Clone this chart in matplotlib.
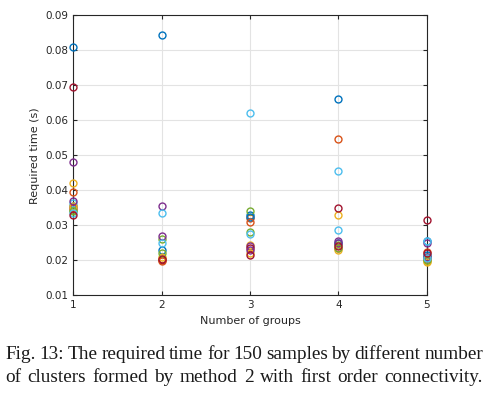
import numpy as np
import matplotlib
matplotlib.use("Agg")
import matplotlib.pyplot as plt

# number of groups (x axis)
groups = [1, 2, 3, 4, 5]

# required time (s), one row per run, plotted as one series each
times = [
    [0.0810, 0.0843, 0.0330, 0.0660, 0.0255],
    [0.0395, 0.0205, 0.0320, 0.0547, 0.0225],
    [0.0420, 0.0205, 0.0245, 0.0330, 0.0198],
    [0.0480, 0.0355, 0.0240, 0.0255, 0.0250],
    [0.0345, 0.0260, 0.0340, 0.0245, 0.0210],
    [0.0365, 0.0335, 0.0622, 0.0455, 0.0255],
    [0.0695, 0.0200, 0.0235, 0.0350, 0.0315],
    [0.0355, 0.0230, 0.0325, 0.0250, 0.0215],
    [0.0350, 0.0198, 0.0310, 0.0235, 0.0205],
    [0.0355, 0.0210, 0.0220, 0.0230, 0.0195],
    [0.0370, 0.0270, 0.0230, 0.0250, 0.0210],
    [0.0340, 0.0220, 0.0280, 0.0235, 0.0202],
    [0.0335, 0.0250, 0.0275, 0.0287, 0.0208],
    [0.0330, 0.0205, 0.0215, 0.0240, 0.0220],
]

caption = ['Fig. 13: The required time for 150 samples by different number',
           'of clusters formed by method 2 with first order connectivity.']

# matlab default colour order
colors = ['#0072BD', '#D95319', '#EDB120', '#7E2F8E', '#77AC30', '#4DBEEE', '#A2142F']

fig = plt.figure(figsize=(4.97, 3.94), dpi=100)
ax = fig.add_axes([0.147, 0.2505, 0.712, 0.7105])

for i, row in enumerate(times):
    ax.plot(groups, row, 'o', mfc='none', mec=colors[i % 7], ms=5, mew=1.0, clip_on=False, zorder=3)

ax.set_xlim(1, 5)
ax.set_ylim(0.01, 0.09)
ax.set_xticks(groups)
ax.set_yticks(np.arange(0.01, 0.0901, 0.01))
ax.set_yticklabels(['%.2f' % v for v in np.arange(0.01, 0.0901, 0.01)])
ax.grid(True, color='#e3e3e3', lw=0.8)
ax.set_axisbelow(True)
ax.tick_params(direction='in', top=True, right=True, labelsize=7.5, colors='#262626', length=3, width=0.8)
for s in ax.spines.values():
    s.set_color('#262626')
    s.set_linewidth(0.8)

ax.set_xlabel('Number of groups', fontsize=8, color='#262626', labelpad=4)
ax.set_ylabel('Required time (s)', fontsize=8, color='#262626', labelpad=4)

# justified caption, spread between x0 and x1 (pixels)
cap = {'fontsize': 13.9, 'family': 'Liberation Serif', 'color': '#1a1a1a', 'va': 'center'}
x0, x1 = 5, 483
W, H = fig.get_size_inches() * fig.dpi
r = fig.canvas.get_renderer()
for line, yf in zip(caption, [0.099, 0.043]):
    words = line.split(' ')
    txts = [fig.text(0, yf, w, **cap) for w in words]
    widths = [t.get_window_extent(r).width for t in txts]
    gap = (x1 - x0 - sum(widths)) / (len(words) - 1)
    x = x0
    for t, w in zip(txts, widths):
        t.set_x(x / W)
        x += w + gap

fig.savefig('out.png', dpi=100)
